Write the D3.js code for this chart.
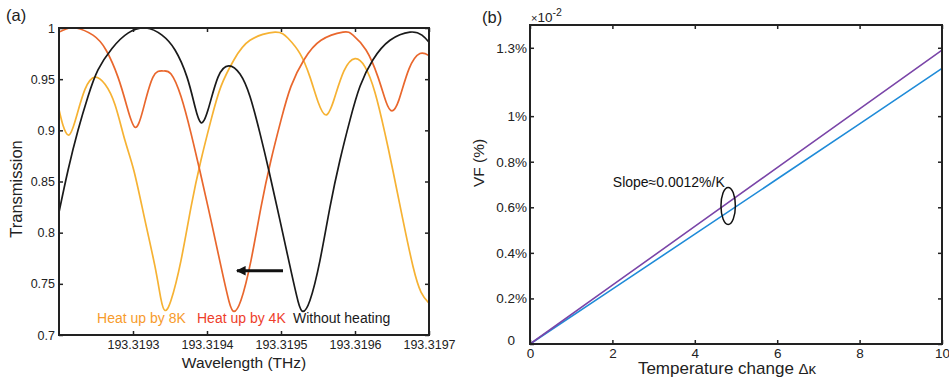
<!DOCTYPE html>
<html>
<head>
<meta charset="utf-8">
<script src="https://cdnjs.cloudflare.com/ajax/libs/d3/7.8.5/d3.min.js"></script>
<style>
  body { margin: 0; background: #fff; }
  svg { display: block; font-family: "Liberation Sans", Arial, sans-serif; }
</style>
</head>
<body>
<div id="chart"></div>
<script>
// ---- panel (a) data: transmission vs wavelength
var wlTicks = [193.3193, 193.3194, 193.3195, 193.3196, 193.3197];
var wlTickLabels = ['193.3193', '193.3194', '193.3195', '193.3196', '193.3197'];
var trTicks = [0.7, 0.75, 0.8, 0.85, 0.9, 0.95, 1];
var trTickLabels = ['0.7', '0.75', '0.8', '0.85', '0.9', '0.95', '1'];

var wlNoHeat = [193.3192000, 193.3192122, 193.3192257, 193.3192392, 193.3192527, 193.3192716, 193.3192932,
  193.3193176, 193.3193392, 193.3193568, 193.3193730, 193.3193838, 193.3193919, 193.3194014, 193.3194149,
  193.3194297, 193.3194446, 193.3194581, 193.3194716, 193.3194838, 193.3194986, 193.3195122, 193.3195230,
  193.3195297, 193.3195392, 193.3195527, 193.3195662, 193.3195797, 193.3195932, 193.3196068, 193.3196243,
  193.3196473, 193.3196743, 193.3196905, 193.3197000];
var trNoHeat = [0.820, 0.861, 0.900, 0.933, 0.959, 0.980, 0.995,
  1.000, 0.993, 0.9785, 0.952, 0.923, 0.9075, 0.920, 0.952,
  0.963, 0.955, 0.933, 0.897, 0.860, 0.812, 0.767, 0.733,
  0.723, 0.734, 0.773, 0.825, 0.871, 0.910, 0.943, 0.969,
  0.988, 0.996, 0.993, 0.986];

var wl4K = [193.3192000, 193.3192095, 193.3192230, 193.3192459, 193.3192635, 193.3192797, 193.3192919,
  193.3193027, 193.3193135, 193.3193270, 193.3193405, 193.3193514, 193.3193649, 193.3193784, 193.3193905,
  193.3194054, 193.3194189, 193.3194297, 193.3194365, 193.3194459, 193.3194595, 193.3194730, 193.3194865,
  193.3195000, 193.3195135, 193.3195311, 193.3195541, 193.3195838, 193.3195973, 193.3196149, 193.3196311,
  193.3196419, 193.3196500, 193.3196595, 193.3196730, 193.3196878, 193.3197000];
var tr4K = [0.996, 0.999, 1.000, 0.993, 0.9785, 0.952, 0.923,
  0.903, 0.920, 0.952, 0.958, 0.955, 0.933, 0.897, 0.860,
  0.812, 0.767, 0.733, 0.723, 0.734, 0.773, 0.825, 0.871,
  0.910, 0.943, 0.969, 0.988, 0.996, 0.993, 0.9785, 0.952,
  0.928, 0.919, 0.930, 0.960, 0.975, 0.973];

var wl8K = [193.3192000, 193.3192054, 193.3192135, 193.3192230, 193.3192351, 193.3192486, 193.3192622,
  193.3192757, 193.3192892, 193.3193014, 193.3193162, 193.3193297, 193.3193378, 193.3193432, 193.3193514,
  193.3193649, 193.3193784, 193.3193919, 193.3194054, 193.3194189, 193.3194365, 193.3194581, 193.3194919,
  193.3195095, 193.3195257, 193.3195392, 193.3195500, 193.3195608, 193.3195716, 193.3195851, 193.3196000,
  193.3196135, 193.3196270, 193.3196405, 193.3196514, 193.3196649, 193.3196784, 193.3196892, 193.3197000];
var tr8K = [0.9205, 0.905, 0.8955, 0.912, 0.940, 0.952, 0.945,
  0.925, 0.890, 0.860, 0.812, 0.767, 0.735, 0.724, 0.734,
  0.773, 0.825, 0.871, 0.910, 0.943, 0.969, 0.988, 0.996,
  0.990, 0.975, 0.952, 0.928, 0.915, 0.930, 0.958, 0.970,
  0.962, 0.937, 0.897, 0.860, 0.812, 0.767, 0.742, 0.731];

// ---- panel (b) data: VF vs temperature change
var dTemp = [0, 2, 4, 6, 8, 10];
var vfPurple = [0, 0.258, 0.516, 0.774, 1.032, 1.29];
var vfBlue = [0, 0.241, 0.482, 0.724, 0.966, 1.21];
var dTempTicks = [0, 2, 4, 6, 8, 10];
var vfTicks = [0, 0.2, 0.4, 0.6, 0.8, 1, 1.3];
var vfTickLabels = ['0', '0.2%', '0.4%', '0.6%', '0.8%', '1%', '1.3%'];

var W = 949, H = 381;
var svg = d3.select('#chart').append('svg')
    .attr('width', W)
    .attr('height', H);

var defs = svg.append('defs');
defs.append('marker')
    .attr('id', 'arrowHead')
    .attr('viewBox', '0 0 10 10')
    .attr('refX', 9).attr('refY', 5)
    .attr('markerWidth', 4.2).attr('markerHeight', 3.2)
    .attr('orient', 'auto')
    .append('path')
    .attr('d', 'M0,0 L10,5 L0,10 Z')
    .attr('fill', '#111');

// ================= panel (a) =================
var ax = d3.scaleLinear().domain([193.3192, 193.3197]).range([59, 429]);
var ay = d3.scaleLinear().domain([0.7, 1]).range([335, 28]);

defs.append('clipPath').attr('id', 'clipA')
    .append('rect')
    .attr('x', 59).attr('y', 27)
    .attr('width', 370).attr('height', 309);

var gA = svg.append('g');

// smooth curve through the read points
var lineA = d3.line()
    .x(function (d) { return ax(d[0]); })
    .y(function (d) { return ay(d[1]); })
    .curve(d3.curveNatural);

var seriesA = [
    {wl: wl8K, tr: tr8K, color: '#F6B233'},
    {wl: wl4K, tr: tr4K, color: '#E9672D'},
    {wl: wlNoHeat, tr: trNoHeat, color: '#1a1a1a'}
];
seriesA.forEach(function (s) {
    gA.append('path')
        .attr('d', lineA(d3.zip(s.wl, s.tr)))
        .attr('clip-path', 'url(#clipA)')
        .style('fill', 'none')
        .style('stroke', s.color)
        .style('stroke-width', 1.7);
});

// axes (inward ticks)
var axBottom = gA.append('g').attr('transform', 'translate(0,335)')
    .call(d3.axisBottom(ax).tickValues(wlTicks)
        .tickFormat(function (d, i) { return wlTickLabels[i]; })
        .tickSize(-4).tickPadding(5));
var axTop = gA.append('g').attr('transform', 'translate(0,28)')
    .call(d3.axisTop(ax).tickValues(wlTicks).tickFormat('').tickSize(-4));
var axLeft = gA.append('g').attr('transform', 'translate(59,0)')
    .call(d3.axisLeft(ay).tickValues(trTicks)
        .tickFormat(function (d, i) { return trTickLabels[i]; })
        .tickSize(-4).tickPadding(4));
var axRight = gA.append('g').attr('transform', 'translate(429,0)')
    .call(d3.axisRight(ay).tickValues(trTicks).tickFormat('').tickSize(-4));

[axBottom, axTop, axLeft, axRight].forEach(function (g) {
    g.select('.domain').remove();
    g.selectAll('.tick line').attr('stroke', '#222').attr('stroke-width', 1.5);
    g.selectAll('.tick text')
        .attr('fill', '#222')
        .style('font-size', '12.5px')
        .style('font-family', '"Liberation Sans", Arial, sans-serif');
});

gA.append('rect')
    .attr('x', 59).attr('y', 28)
    .attr('width', 370).attr('height', 307)
    .style('fill', 'none')
    .style('stroke', '#222')
    .style('stroke-width', 2);

// arrow
gA.append('line')
    .attr('x1', ax(193.3195027)).attr('y1', ay(0.7628))
    .attr('x2', ax(193.3194405)).attr('y2', ay(0.7628))
    .attr('stroke', '#111')
    .attr('stroke-width', 3)
    .attr('marker-end', 'url(#arrowHead)');

// curve labels
var labelsA = [
    {wl: 193.3192514, text: 'Heat up by 8K', color: '#F79B2C'},
    {wl: 193.3193865, text: 'Heat up by 4K', color: '#EE3E2B'},
    {wl: 193.3195162, text: 'Without heating', color: '#1a1a1a'}
];
gA.selectAll('text.lbl')
    .data(labelsA)
    .enter()
    .append('text')
    .attr('class', 'lbl')
    .attr('x', function (d) { return ax(d.wl); })
    .attr('y', ay(0.7117))
    .text(function (d) { return d.text; })
    .style('fill', function (d) { return d.color; })
    .style('font-size', '14px');

gA.append('text')
    .attr('x', 244).attr('y', 368)
    .attr('text-anchor', 'middle')
    .style('font-size', '15.5px')
    .style('fill', '#222')
    .text('Wavelength (THz)');

gA.append('text')
    .attr('transform', 'translate(22,189) rotate(-90)')
    .attr('text-anchor', 'middle')
    .style('font-size', '16.5px')
    .style('fill', '#222')
    .text('Transmission');

gA.append('text')
    .attr('x', 6).attr('y', 21)
    .style('font-size', '16.5px')
    .style('fill', '#222')
    .text('(a)');

// ================= panel (b) =================
var bx = d3.scaleLinear().domain([0, 10]).range([530, 942]);
var by = d3.scaleLinear().domain([0, 1.4]).range([344, 25]);

var gB = svg.append('g');

var lineB = d3.line()
    .x(function (d) { return bx(d[0]); })
    .y(function (d) { return by(d[1]); });

gB.append('path')
    .attr('d', lineB(d3.zip(dTemp, vfBlue)))
    .style('fill', 'none')
    .style('stroke', '#1F8BD8')
    .style('stroke-width', 1.6);
gB.append('path')
    .attr('d', lineB(d3.zip(dTemp, vfPurple)))
    .style('fill', 'none')
    .style('stroke', '#7A45A8')
    .style('stroke-width', 1.6);

var bxBottom = gB.append('g').attr('transform', 'translate(0,344)')
    .call(d3.axisBottom(bx).tickValues(dTempTicks).tickFormat(d3.format('d'))
        .tickSize(-4).tickPadding(4));
var bxTop = gB.append('g').attr('transform', 'translate(0,25)')
    .call(d3.axisTop(bx).tickValues(dTempTicks).tickFormat('').tickSize(-4));
var byLeft = gB.append('g').attr('transform', 'translate(530,0)')
    .call(d3.axisLeft(by).tickValues(vfTicks)
        .tickFormat(function (d, i) { return vfTickLabels[i]; })
        .tickSize(-4).tickPadding(3));
var byRight = gB.append('g').attr('transform', 'translate(942,0)')
    .call(d3.axisRight(by).tickValues(vfTicks).tickFormat('').tickSize(-4));

[bxBottom, bxTop, byLeft, byRight].forEach(function (g) {
    g.select('.domain').remove();
    g.selectAll('.tick line').attr('stroke', '#222').attr('stroke-width', 1.5);
    g.selectAll('.tick text')
        .attr('fill', '#222')
        .style('font-size', '13.5px')
        .style('font-family', '"Liberation Sans", Arial, sans-serif');
});
// MATLAB puts the bare "0" a bit further out
byLeft.selectAll('.tick text')
    .filter(function (d) { return d === 0; })
    .attr('x', -15)
    .attr('dy', '0.0em');

gB.append('rect')
    .attr('x', 530).attr('y', 25)
    .attr('width', 412).attr('height', 319)
    .style('fill', 'none')
    .style('stroke', '#222')
    .style('stroke-width', 2);

// slope annotation
gB.append('ellipse')
    .attr('cx', bx(4.81)).attr('cy', by(0.606))
    .attr('rx', 7.2).attr('ry', 18.5)
    .style('fill', 'none')
    .style('stroke', '#111')
    .style('stroke-width', 1.5);
gB.append('text')
    .attr('x', bx(2.01)).attr('y', by(0.689))
    .style('font-size', '14px')
    .style('fill', '#111')
    .text('Slope\u22480.0012%/K');

// exponent
var expo = gB.append('text')
    .attr('x', 531).attr('y', 22)
    .style('fill', '#222');
expo.append('tspan').style('font-size', '11px').text('\u00d7');
expo.append('tspan').style('font-size', '13.5px').text('10');
expo.append('tspan').style('font-size', '10.5px').attr('dy', -6).text('-2');

var xl = gB.append('text')
    .attr('x', 727).attr('y', 374)
    .attr('text-anchor', 'middle')
    .style('font-size', '17px')
    .style('fill', '#222');
xl.append('tspan').text('Temperature change ');
xl.append('tspan').style('font-size', '15px').text('\u0394\u03ba');

gB.append('text')
    .attr('transform', 'translate(484,163) rotate(-90)')
    .attr('text-anchor', 'middle')
    .style('font-size', '15.5px')
    .style('fill', '#222')
    .text('VF (%)');

gB.append('text')
    .attr('x', 482).attr('y', 23)
    .style('font-size', '16.5px')
    .style('fill', '#222')
    .text('(b)');
</script>
</body>
</html>
